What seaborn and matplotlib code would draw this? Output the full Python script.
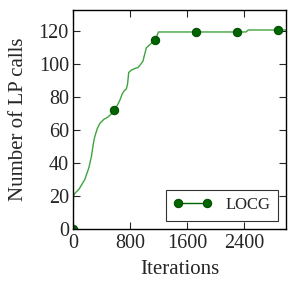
import numpy as np
import pandas as pd
import seaborn as sns
import matplotlib.pyplot as plt

# Data
iterations = [0, 5, 23, 80, 164, 220, 257, 285, 304, 340, 374, 430, 491, 540,
              575, 620, 655, 690, 720, 748, 765, 781, 820, 870, 912, 950, 982,
              1005, 1029, 1080, 1150, 1175, 1200, 1725, 2300, 2430, 2460, 2875, 2990]
lp_calls = [0, 20, 21.6, 24, 30, 37, 44, 52, 56, 61, 64, 66.5, 68, 70,
            72.5, 75, 78, 82, 84, 85, 88, 95, 96.5, 97.5, 98, 100, 102,
            106, 110, 112, 114.5, 117, 119.6, 119.6, 119.6, 119.6, 120.8, 120.8, 120.8]
marker_at = [0, 575, 1150, 1725, 2300, 2875]
series_name = "LOCG"
x_ticks = [0, 800, 1600, 2400]
y_ticks = [0, 20, 40, 60, 80, 100, 120]

df = pd.DataFrame({"Iterations": iterations, "LP calls": lp_calls})
mark_idx = [iterations.index(v) for v in marker_at]

sns.set_style("ticks")
plt.rcParams["font.family"] = ["Liberation Serif", "DejaVu Serif"]
plt.rcParams["xtick.direction"] = "in"
plt.rcParams["ytick.direction"] = "in"

fig, ax = plt.subplots(figsize=(2.96, 2.91), dpi=100)
sns.lineplot(data=df, x="Iterations", y="LP calls", ax=ax, color="#3fa33f",
             linewidth=1.0, marker="o", markersize=6, markevery=mark_idx,
             markerfacecolor="#006400", markeredgecolor="#004d00",
             label=series_name)

ax.set_xlim(0, 2990)
ax.set_ylim(0, 133)
ax.set_xticks(x_ticks)
ax.set_yticks(y_ticks)
ax.tick_params(top=True, right=True, labelsize=14.5, length=5, width=0.8)
ax.tick_params(axis="x", pad=3.5)
ax.tick_params(axis="y", pad=3)
ax.set_xlabel("Iterations", fontsize=15, labelpad=5)
ax.set_ylabel("Number of LP calls", fontsize=15, labelpad=8)
for s in ax.spines.values():
    s.set_linewidth(1.0)
    s.set_color("black")

leg = ax.legend(loc="lower right", fontsize=12, frameon=True, fancybox=False,
                numpoints=2, handlelength=2.3, borderaxespad=0.5, borderpad=0.45)
leg.get_frame().set_edgecolor("black")
leg.get_frame().set_linewidth(0.8)
for h in leg.legend_handles:
    h.set_markevery(None)
    h.set_color("#006400")

fig.subplots_adjust(left=0.247, right=0.966, top=0.966, bottom=0.213)
fig.savefig("out.png", dpi=100)
